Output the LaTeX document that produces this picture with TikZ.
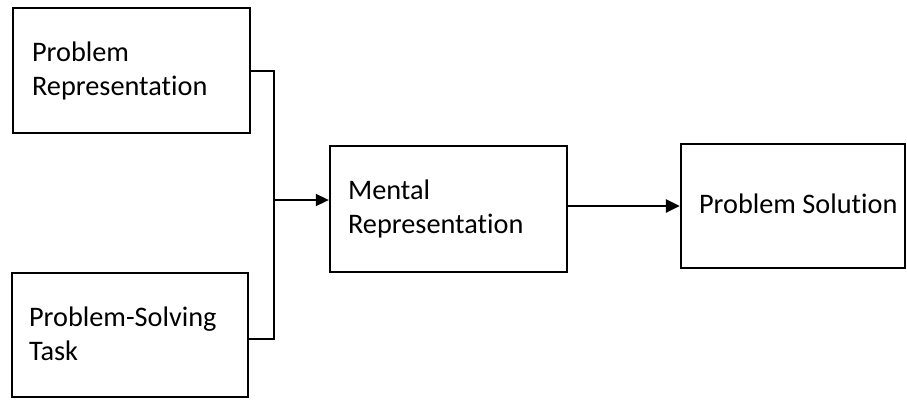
\documentclass[tikz,border=0pt]{standalone}
\usepackage{fontspec}
\setmainfont[Ligatures=NoCommon]{Carlito}
\usetikzlibrary{arrows.meta}
\begin{document}
\begin{tikzpicture}[x=1pt,y=-1pt,
  box/.style={draw=black,line width=2.3pt,rectangle,inner sep=0pt,fill=none},
  label/.style={anchor=base west,inner sep=0pt,align=left,
    font=\fontsize{28.3}{34}\selectfont},
  link/.style={line width=1.7pt},
  arr/.style={line width=1.7pt,-{Triangle[length=13pt,width=12pt]}},
  thickarr/.style={line width=2.8pt,-{Triangle[length=14pt,width=13pt]}}]
  \useasboundingbox (0,0) rectangle (907,400);

  % boxes, placed by their corners
  \node[box,minimum width=237pt,minimum height=125pt] (prep) at (131.5,70.5) {};
  \node[box,minimum width=236pt,minimum height=124pt] (task) at (130,335) {};
  \node[box,minimum width=237pt,minimum height=126pt] (mental) at (448.5,209) {};
  \node[box,minimum width=224pt,minimum height=124pt] (sol) at (793,206) {};

  % box texts: offset from each box's top-left corner to the last baseline
  \node[label] (preptext) at ([shift={(20,89)}]prep.north west) {Problem\\Representation};
  \node[label] (tasktext) at ([shift={(18,89)}]task.north west) {Problem-Solving\\Task};
  \node[label] (mentaltext) at ([shift={(19,89)}]mental.north west) {Mental\\Representation};
  \node[label] (soltext) at ([shift={(19,71)}]sol.north west) {Problem Solution};

  % joining bracket and arrows
  \coordinate (join) at (274,200);
  \draw[link] (prep.east |- 0,71) -- (274,71) -- (274,339) -- (task.east |- 0,339);
  \draw[arr] (join) -- (join -| mental.west);
  \draw[thickarr] (mental.east |- 0,206) -- (sol.west);
\end{tikzpicture}
\end{document}
